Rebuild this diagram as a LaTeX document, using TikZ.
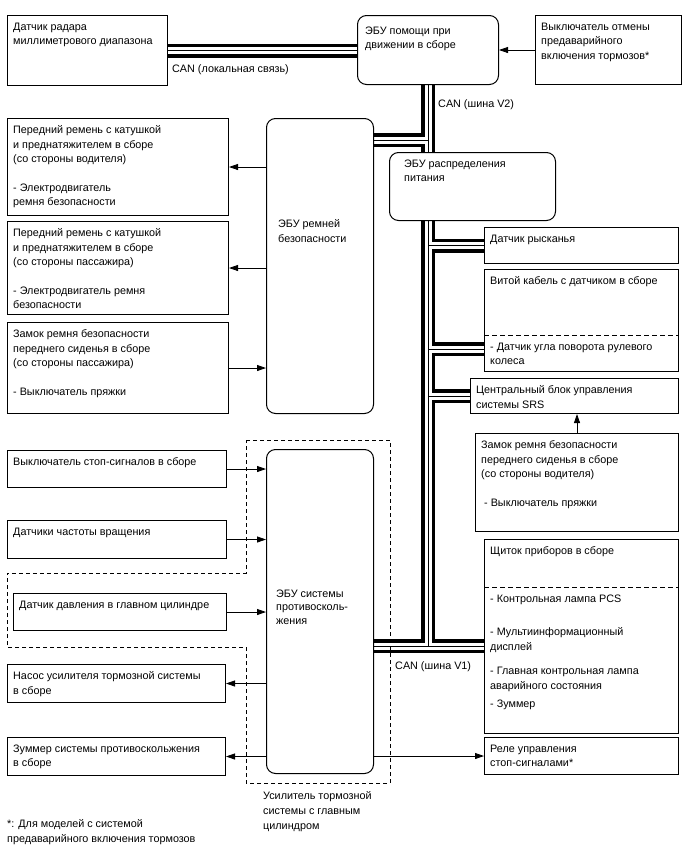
\documentclass[tikz,border=0pt]{standalone}
\usepackage{fontspec}
\setmainfont{Liberation Sans}
\usetikzlibrary{arrows.meta,backgrounds}

\begin{document}
\begin{tikzpicture}[x=1pt, y=-1pt,
every edge/.style = {draw, line width=0.8pt, -{Triangle[length=9pt,width=6pt]}},
 box/.style args = {#1/#2}{%
      rectangle, draw, line width=1pt, fill=white,
      anchor=north west, inner sep=0pt,
      minimum width=#1, minimum height=#2},
 ecu/.style args = {#1/#2}{%
      box=#1/#2, rounded corners=9pt},
 txt/.style = {font=\fontsize{10.8}{14.5}\selectfont, align=left,
      anchor=north west, inner xsep=6pt, inner ysep=7.5pt},
 grp/.style = {draw, line width=1pt, dash pattern=on 4pt off 3pt},
 sep/.style = {draw, line width=0.8pt, dash pattern=on 5pt off 3pt},
 can/.style = {draw, line width=1pt,
      preaction={draw, line width=14pt},
      preaction={draw=white, line width=7pt}}
                    ]
\useasboundingbox (0,0) rectangle (688,852);
% top row
\node(radar) [box=160/70, label={[txt]north west:{Датчик радара\\миллиметрового диапазона}}] at (7,15) {};
\node(pcsecu) [ecu=141/69, label={[txt, xshift=2pt, yshift=-4pt]north west:{ЭБУ помощи при\\движении в сборе}}] at (357,15) {};
\node(pcsoff) [box=146/69, label={[txt]north west:{Выключатель отмены\\предаварийного\\включения тормозов*}}] at (535,15) {};
% seat belts
\node(beltdrv) [box=221/97, label={[txt]north west:{Передний ремень с катушкой\\и преднатяжителем в сборе\\(со стороны водителя)\\[14pt]- Электродвигатель\\ремня безопасности}}] at (7,118) {};
\node(beltpas) [box=221/93, label={[txt]north west:{Передний ремень с катушкой\\и преднатяжителем в сборе\\(со стороны пассажира)\\[14pt]- Электродвигатель ремня\\безопасности}}] at (7,221) {};
\node(bklpas) [box=221/91, label={[txt]north west:{Замок ремня безопасности\\переднего сиденья в сборе\\(со стороны пассажира)\\[14pt]- Выключатель пряжки}}] at (7,322) {};
\node(beltecu) [ecu=107/295, label={[txt, xshift=6pt, yshift=-94pt]north west:{ЭБУ ремней\\безопасности}}] at (266,118) {};
% brake booster group
\node(stopsw) [box=219/37, label={[txt]north west:{Выключатель стоп-сигналов в сборе}}] at (7,450) {};
\node(speed) [box=219/38, label={[txt]north west:{Датчики частоты вращения}}] at (7,520) {};
\node(mcpress) [box=213/37, label={[txt]north west:{Датчик давления в главном цилиндре}}] at (13,593) {};
\node(pump) [box=218/38, label={[txt]north west:{Насос усилителя тормозной системы\\в сборе}}] at (7,664) {};
\node(buzzer) [box=218/38, label={[txt]north west:{Зуммер системы противоскольжения\\в сборе}}] at (7,737) {};
\node(acecu) [ecu=107/324, label={[txt, xshift=4pt, yshift=-133pt, font=\fontsize{10.8}{13.5}\selectfont]north west:{ЭБУ системы\\противосколь-\\жения}}] at (266,449) {};
% right column
\node(powerecu) [ecu=166/68, label={[txt, xshift=9pt]north west:{ЭБУ распределения\\питания}}] at (389,152) {};
\node(yaw) [box=194/36, label={[txt]north west:{Датчик рысканья}}] at (484,227) {};
\node(cable) [box=194/102, label={[txt]north west:{Витой кабель с датчиком в сборе}}] at (484,269) {};
\node(cablesub) [txt] at (484,335) {- Датчик угла поворота рулевого\\колеса};
\node(srs) [box=208/35, label={[txt]north west:{Центральный блок управления\\системы SRS}}] at (470,378) {};
\node(bkldrv) [box=203/98, label={[txt]north west:{Замок ремня безопасности\\переднего сиденья в сборе\\(со стороны водителя)\\[14pt]\ - Выключатель пряжки}}] at (475,433) {};
\node(meter) [box=194/194, label={[txt]north west:{Щиток приборов в сборе}}] at (484,539) {};
\node(metersub) [txt] at (484,587) {- Контрольная лампа PCS\\[19pt]- Мультиинформационный\\дисплей\\[10pt]- Главная контрольная лампа\\аварийного состояния\\[4pt]- Зуммер};
\node(relay) [box=194/37, label={[txt]north west:{Реле управления\\стоп-сигналами*}}] at (484,737) {};
% texts
\node(lanlbl) [txt, inner sep=0pt] at (172,64) {CAN (локальная связь)};
\node(v2lbl) [txt, inner sep=0pt] at (438,99) {CAN (шина V2)};
\node(v1lbl) [txt, inner sep=0pt] at (395,661) {CAN (шина V1)};
\node(grpname) [txt, inner sep=0pt, font=\fontsize{10.8}{15}\selectfont] at (263,791) {Усилитель тормозной\\системы с главным\\цилиндром};
\node(note) [txt, inner sep=0pt, font=\fontsize{10.8}{15}\selectfont] at (7,819) {*: Для моделей с системой\\предаварийного включения тормозов};
%
\draw[sep] (cable.west |- 0,335) -- (cable.east |- 0,335);
\draw[sep] (meter.west |- 0,587) -- (meter.east |- 0,587);
\draw[grp] (246,440) -| (390,783) -| (246,647) -| (7,573) -| (246,440);
%
\coordinate (jtop) at (pcsecu.south);
\coordinate (jbelt) at (jtop |- 0,140);
\coordinate (jyaw) at (jtop |- yaw.west);
\coordinate (jcable) at (jtop |- 0,349);
\coordinate (jsrs) at (jtop |- srs.west);
\coordinate (jv1) at (jtop |- 0,646);
\begin{scope}[on background layer]
\path[can] (radar.east) -- (radar.east -| pcsecu.west)
           (jtop) -- (jv1)
           (jbelt) -- (jbelt -| beltecu.east)
           (jyaw) -- (yaw.west)
           (jcable) -- (jcable -| cable.west)
           (jsrs) -- (srs.west)
           (jv1 -| acecu.east) -- (jv1 -| meter.west);
\end{scope}
%
\path (pcsoff) edge (pcsecu);
\path (beltecu.west |- beltdrv) edge (beltdrv);
\path (beltecu.west |- beltpas) edge (beltpas);
\path (bklpas) edge (bklpas -| beltecu.west);
\path (bkldrv.north) edge (bkldrv.north |- srs.south);
\path (stopsw) edge (stopsw -| acecu.west);
\path (speed) edge (speed -| acecu.west);
\path (mcpress) edge (mcpress -| acecu.west);
\path (acecu.west |- pump) edge (pump);
\path (acecu.west |- buzzer) edge (buzzer);
\path (acecu.east |- relay) edge (relay);
\end{tikzpicture}
\end{document}
